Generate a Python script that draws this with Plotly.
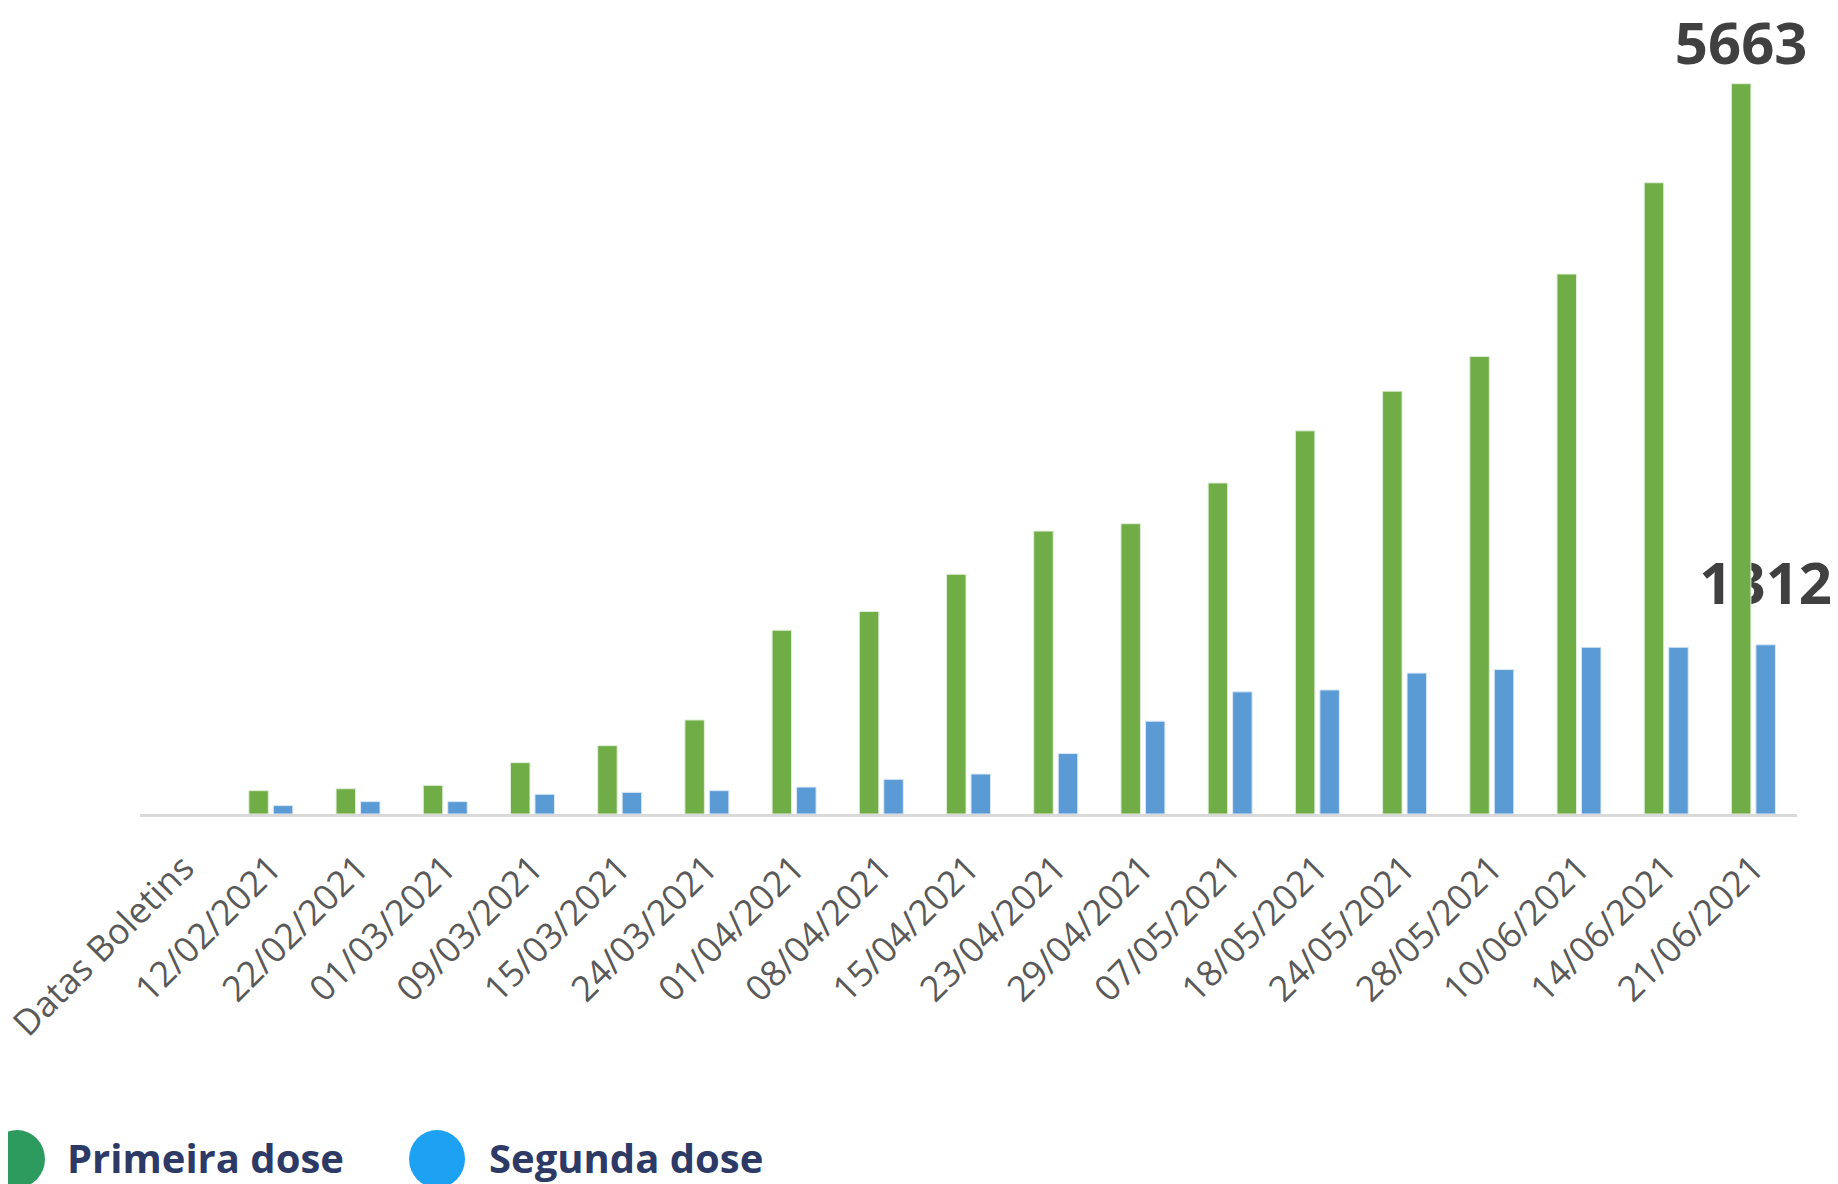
import plotly.graph_objects as go

categories = ["Datas Boletins", "12/02/2021", "22/02/2021", "01/03/2021", "09/03/2021",
              "15/03/2021", "24/03/2021", "01/04/2021", "08/04/2021", "15/04/2021",
              "23/04/2021", "29/04/2021", "07/05/2021", "18/05/2021", "24/05/2021",
              "28/05/2021", "10/06/2021", "14/06/2021", "21/06/2021"]
primeira_dose = [None, 181, 196, 222, 398, 530, 729, 1425, 1570, 1859,
                 2194, 2251, 2567, 2971, 3279, 3548, 4187, 4895, 5663]
segunda_dose = [None, 65, 96, 96, 153, 168, 181, 209, 269, 310,
                469, 720, 947, 962, 1093, 1120, 1293, 1293, 1312]
legend_labels = ["Primeira dose", "Segunda dose"]

# the page body adds an 8px margin; layout numbers below are in page pixels minus it
OFF = 8
W, H = 1838, 1184
ML, MR, MT, MB = 140 - OFF, 41 + OFF, 0, 370 + OFF
PW = W - ML - MR
PH = H - MT - MB


def px_x(p):
    return (p - OFF - ML) / PW


def px_y(p):
    return (H - MB - (p - OFF)) / PH


def last_only(vals, template="{}"):
    return ["" if i < len(vals) - 1 else template.format(v) for i, v in enumerate(vals)]


green_font = dict(family="Open Sans", size=58, color="#404040", weight="bold")
blue_font = dict(family="Open Sans", size=24, color="#404040", weight="bold")

fig = go.Figure()
# blue first so that the green bars are drawn above its label
fig.add_trace(go.Bar(
    x=categories, y=segunda_dose, name=legend_labels[1],
    marker=dict(color="#5B9BD5", line=dict(width=1, color="#DCE9F6")),
    width=0.2236, offset=0.0287,
    text=last_only(segunda_dose, '<span style="font-size:58px">{}</span><br>&nbsp;'),
    textposition="outside", textfont=blue_font,
    constraintext="none", cliponaxis=False, showlegend=False, hoverinfo="x+y",
))
fig.add_trace(go.Bar(
    x=categories, y=primeira_dose, name=legend_labels[0],
    marker=dict(color="#70AD47", line=dict(width=1, color="#E2EFD9")),
    width=0.2236, offset=-0.252,
    text=last_only(primeira_dose), textposition="outside", textfont=green_font,
    constraintext="none", cliponaxis=False, showlegend=False, hoverinfo="x+y",
))

shapes = []
annotations = []
legend_items = [
    (legend_labels[0], "#2E9B5E", 17, 65),
    (legend_labels[1], "#1DA1F2", 437, 487),
]
for text, color, cx, tx in legend_items:
    shapes.append(dict(type="circle", xref="paper", yref="paper",
                       x0=px_x(cx - 28), x1=px_x(cx + 28),
                       y0=px_y(1188), y1=px_y(1130),
                       fillcolor=color, line=dict(width=0)))
    annotations.append(dict(text=text, xref="paper", yref="paper",
                            x=px_x(tx), y=px_y(1157), xanchor="left", yanchor="middle",
                            showarrow=False,
                            font=dict(family="Open Sans", size=40, color="#2D3A66",
                                      weight="bold")))

fig.update_layout(
    width=W, height=H, autosize=False,
    margin=dict(l=ML, r=MR, t=MT, b=MB, pad=0, autoexpand=False),
    paper_bgcolor="white", plot_bgcolor="white",
    barmode="overlay",
    showlegend=False,
    xaxis=dict(type="category", categoryorder="array", categoryarray=categories,
               range=[-0.5, len(categories) - 0.5], automargin=False,
               showline=True, linecolor="#D9D9D9", linewidth=3,
               showgrid=False, zeroline=False, ticks="",
               tickangle=-45, ticklabelstandoff=16,
               tickfont=dict(family="Open Sans", size=35.5, color="#595959")),
    yaxis=dict(range=[0, 6250], visible=False, showgrid=False, zeroline=False,
               automargin=False),
    shapes=shapes,
    annotations=annotations,
)

fig.write_html("out.html")
